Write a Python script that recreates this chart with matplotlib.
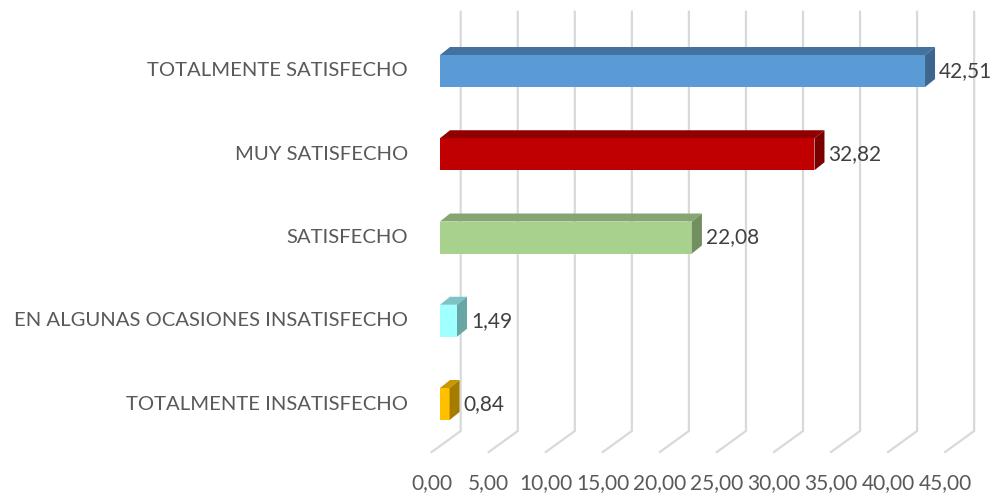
"""
3D-style horizontal bar chart of satisfaction levels (Excel look-alike).
Writes out.png.
"""

import matplotlib
matplotlib.use("Agg")
import matplotlib.pyplot as plt
from matplotlib.patches import Polygon

# data (top to bottom)
categories = [
    "TOTALMENTE SATISFECHO",
    "MUY SATISFECHO",
    "SATISFECHO",
    "EN ALGUNAS OCASIONES INSATISFECHO",
    "TOTALMENTE INSATISFECHO",
]
values = [42.51, 32.82, 22.08, 1.49, 0.84]
value_labels = ["42,51", "32,82", "22,08", "1,49", "0,84"]
ticks = [0, 5, 10, 15, 20, 25, 30, 35, 40, 45]
tick_labels = ["0,00", "5,00", "10,00", "15,00", "20,00", "25,00",
               "30,00", "35,00", "40,00", "45,00"]

# colours: front, top, side
front_colors = ["#5B9BD5", "#C00000", "#A9D18E", "#A0FFFF", "#FFC000"]
top_colors = ["#44729E", "#900000", "#86A671", "#7CC4C4", "#C99700"]
side_colors = ["#3C668E", "#7A0000", "#728F60", "#68A5A5", "#A67C00"]

W, H = 999, 495
PX = 11.41          # pixels per value unit
X0 = 440            # pixel x of the bar front at 0
Y0 = 71             # pixel y of the first bar centre
STEP = 83.25        # pixels between categories


def px_x(dx):
    return dx / PX


def px_y(dy):
    return dy / STEP


def main():
    plt.rcParams["font.family"] = ["Lato", "DejaVu Sans"]
    fig = plt.figure(figsize=(W / 100, H / 100), dpi=100)
    ax = fig.add_axes([0, 0, 1, 1])
    ax.set_xlim(-X0 / PX, (W - X0) / PX)
    ax.set_ylim((H - Y0) / STEP, -Y0 / STEP)
    ax.axis("off")

    grid_c = "#D9D9D9"
    wall_dx = px_x(20.7)
    floor_dx = px_x(-8.3)
    y_top = px_y(11.7 - Y0)
    y_wall = px_y(431 - Y0)
    y_floor = px_y(452 - Y0)
    for t, lab in zip(ticks, tick_labels):
        ax.plot([t + wall_dx, t + wall_dx, t + floor_dx],
                [y_top, y_wall, y_floor],
                color=grid_c, lw=1.6, zorder=1, solid_joinstyle="miter")
        ax.text(t + floor_dx, px_y(483 - Y0), lab, ha="center", va="center",
                fontsize=15, color="#595959")

    h = 32 / STEP
    ddx = px_x(10)
    ddy = px_y(-8)
    ypos = list(range(len(categories)))
    ax.barh(ypos, values, height=h, color=front_colors, lw=0, zorder=3)
    for y, v, tc, sc, vl in zip(ypos, values, top_colors, side_colors, value_labels):
        top = y - h / 2
        bot = y + h / 2
        ax.add_patch(Polygon([(0, top), (v, top), (v + ddx, top + ddy), (ddx, top + ddy)],
                             closed=True, facecolor=tc, lw=0, zorder=3))
        ax.add_patch(Polygon([(v, top), (v, bot), (v + ddx, bot + ddy), (v + ddx, top + ddy)],
                             closed=True, facecolor=sc, lw=0, zorder=3))
        ax.text(v + ddx + px_x(4), y, vl, ha="left", va="center",
                fontsize=15, color="#404040")

    for y, cat in zip(ypos, categories):
        ax.text(px_x(408 - X0), y, cat, ha="right", va="center",
                fontsize=14.6, color="#595959")

    fig.savefig("out.png", dpi=100)
    plt.close(fig)


if __name__ == "__main__":
    main()
